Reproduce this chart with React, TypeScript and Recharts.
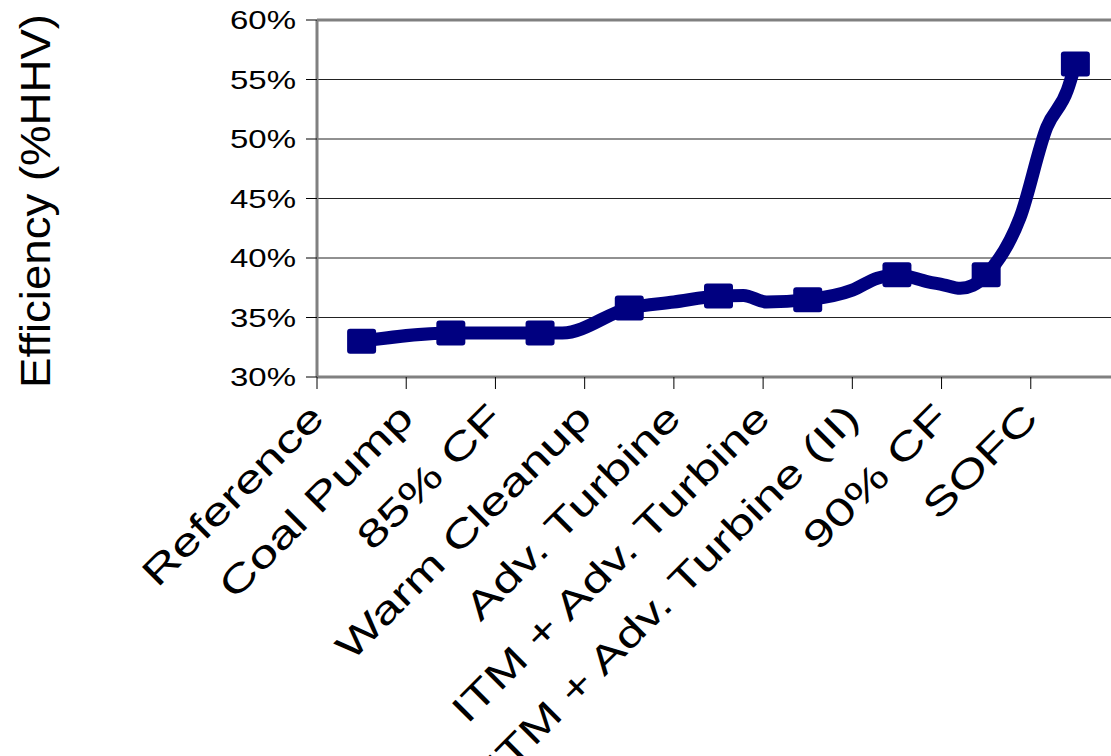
import React from "react";
import { LineChart, Line, XAxis, YAxis, CartesianGrid, ReferenceLine, Label } from "recharts";

// Process steps and the efficiency each one reaches (%HHV)
const categories = [
  "Reference",
  "Coal Pump",
  "85% CF",
  "Warm Cleanup",
  "Adv. Turbine",
  "ITM + Adv. Turbine",
  "ITM + Adv. Turbine (II)",
  "90% CF",
  "SOFC",
];
const efficiency = [33.0, 33.7, 33.7, 35.8, 36.8, 36.5, 38.6, 38.6, 56.3];

// extra points of the smoothed trace between the steps (position in category units)
const tracePos = [2.75, 4.0, 4.78, 5.04, 6.0, 6.28, 6.85, 7.02, 7.21, 7.35, 7.88, 8.18, 8.41];
const traceVal = [33.7, 36.3, 36.85, 36.3, 37.3, 38.3, 38.0, 37.75, 37.45, 37.7, 43.4, 51.0, 54.1];

const yTicks = [30, 35, 40, 45, 50, 55, 60];
const xTicks = [0, 1, 2, 3, 4, 5, 6, 7, 8, 9];

const NAVY = "#000080";
const FRAME = "#808080";
const FONT = "'Liberation Sans', Arial, sans-serif";

const rows = [
  ...efficiency.map((v, i) => ({ x: i + 0.5, v, mark: true })),
  ...tracePos.map((x, i) => ({ x, v: traceVal[i], mark: false })),
].sort((a, b) => a.x - b.x);

// eslint-disable-next-line @typescript-eslint/no-explicit-any
const renderMarker = (props: any) => {
  const { cx, cy, payload, index } = props;
  if (!payload?.mark) return <g key={`m-${index}`} />;
  return (
    <rect key={`m-${index}`} x={cx - 14.5} y={cy - 12.5} width={29} height={25} rx={3} fill={NAVY} />
  );
};

// eslint-disable-next-line @typescript-eslint/no-explicit-any
const categoryTick = (props: any) => {
  const { x, y, payload } = props as { x: number; y: number; payload: { value: number } };
  const name = categories[payload.value];
  if (!name) return <g />;
  return (
    <text
      transform={`translate(${x + 9},${y + 31}) rotate(-45) scale(1.36,1)`}
      textAnchor="end"
      fontSize={38}
      fontFamily={FONT}
      fill="#000"
    >
      {name}
    </text>
  );
};

// eslint-disable-next-line @typescript-eslint/no-explicit-any
const percentTick = (props: any) => {
  const { x, y, payload } = props as { x: number; y: number; payload: { value: number } };
  return (
    <text
      transform={`translate(${x},${y}) scale(1.32,1)`}
      textAnchor="end"
      dy="0.36em"
      fontSize={25}
      fontFamily={FONT}
      fill="#000"
    >
      {`${payload.value}%`}
    </text>
  );
};

const axisTitle = () => (
  <text
    transform="translate(50,201) rotate(-90) scale(1.06,1)"
    textAnchor="middle"
    fontSize={43}
    fontFamily={FONT}
    fill="#000"
  >
    Efficiency (%HHV)
  </text>
);

export default function App() {
  return (
    <div
      style={{
        position: "absolute",
        left: 0,
        top: 0,
        width: 1111,
        height: 756,
        overflow: "hidden",
        background: "#fff",
      }}
    >
      <LineChart
        width={1130}
        height={756}
        data={rows}
        margin={{ top: 20, right: 10, bottom: 349, left: 257 }}
      >
        <CartesianGrid vertical={false} stroke="#222" strokeWidth={1} />
        <XAxis
          type="number"
          dataKey="x"
          domain={[0, 9]}
          ticks={xTicks}
          interval={0}
          height={30}
          tickSize={12}
          tickMargin={0}
          tick={categoryTick}
          axisLine={{ stroke: FRAME, strokeWidth: 3 }}
          tickLine={{ stroke: "#000" }}
        />
        <YAxis
          type="number"
          domain={[30, 60]}
          ticks={yTicks}
          interval={0}
          width={60}
          tickSize={11}
          tickMargin={10}
          tick={percentTick}
          axisLine={{ stroke: FRAME, strokeWidth: 3 }}
          tickLine={{ stroke: "#000" }}
        >
          <Label content={axisTitle} />
        </YAxis>
        <ReferenceLine y={60} stroke={FRAME} strokeWidth={3} />
        <Line
          type="monotone"
          dataKey="v"
          stroke={NAVY}
          strokeWidth={13}
          strokeLinejoin="round"
          dot={renderMarker}
          activeDot={false}
          isAnimationActive={false}
        />
      </LineChart>
    </div>
  );
}
